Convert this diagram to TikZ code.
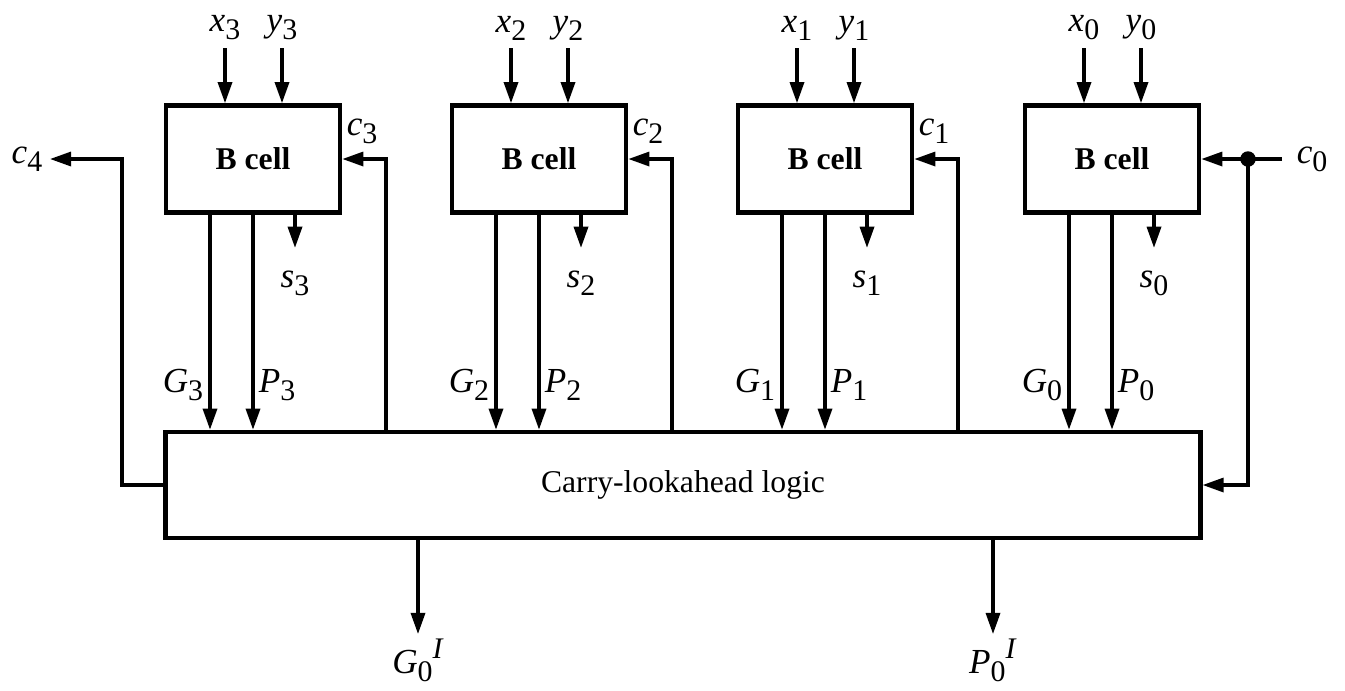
\documentclass[tikz,border=0pt]{standalone}
\usepackage{fontspec}
\setmainfont{Liberation Serif}
\usetikzlibrary{arrows.meta, positioning, calc}
\newcommand{\sigl}[2]{\textit{#1}\raisebox{-0.5ex}{\fontsize{8.5}{9}\selectfont #2}}
\newcommand{\sigI}[2]{\textit{#1}\raisebox{-0.5ex}{\fontsize{8.5}{9}\selectfont #2}\raisebox{0.9ex}{\fontsize{8.5}{9}\selectfont\textit{I}}}

\begin{document}
\begin{tikzpicture}[x=0.01cm, y=-0.01cm,
    sig/.style={line width=0.9pt, -{Triangle[length=6pt,width=4pt]}},
    bcell/.style={draw, line width=1.3pt, minimum width=1.74cm, minimum height=1.07cm,
      font=\fontsize{9}{11}\selectfont\bfseries},
    lbl/.style={inner sep=1pt, font=\fontsize{10}{12}\selectfont}]
  \useasboundingbox (0,0) rectangle (1345,690);

  \node[draw, line width=1.3pt, minimum width=10.34cm, minimum height=1.06cm,
    font=\fontsize{9}{11}\selectfont] (cla) at (683,485) {Carry-lookahead logic};

  \foreach \i/\cx in {3/253,2/539,1/825,0/1112} {
    \node[bcell] (b\i) at (\cx,159) {B cell};
    % operand inputs
    \coordinate (xin\i) at (\cx-28,48);
    \coordinate (yin\i) at (\cx+29,48);
    \node[lbl, above=1pt of xin\i] (lx\i) {\sigl{x}{\i}};
    \node[lbl, above=1pt of yin\i] (ly\i) {\sigl{y}{\i}};
    \draw[sig] (xin\i) -- (xin\i |- b\i.north);
    \draw[sig] (yin\i) -- (yin\i |- b\i.north);
    % generate, propagate, sum
    \coordinate (g\i) at ($(b\i.south)+(-43,0)$);
    \coordinate (s\i) at ($(b\i.south)+(42,0)$);
    \draw[sig] (g\i) -- (g\i |- cla.north);
    \draw[sig] (b\i.south) -- (b\i.south |- cla.north);
    \draw[sig] (s\i) -- ++(0,33) node[lbl, below=5pt] (ls\i) {\sigl{s}{\i}};
    \node[lbl] (lg\i) at (\cx-70,385) {\sigl{G}{\i}};
    \node[lbl] (lp\i) at (\cx+24,385) {\sigl{P}{\i}};
  }

  % carries from the lookahead logic
  \foreach \i/\cx in {3/253,2/539,1/825} {
    \coordinate (k\i) at (\cx+133,432);
    \draw[sig] (k\i) |- (b\i.east) node[lbl, pos=0.5, above left=3pt and 1pt] (lc\i) {\sigl{c}{\i}};
  }

  % carry in
  \coordinate (cin) at (1282,159);
  \coordinate (tap) at (1248,159);
  \node[lbl, right=3pt of cin] (lc0) {\sigl{c}{0}};
  \draw[sig] (cin) -- (b0.east);
  \fill (tap) circle[radius=2.2pt];
  \draw[sig] (tap) |- (cla.east);

  % carry out
  \coordinate (c4up) at (122,159);
  \coordinate (c4out) at (50,159);
  \node[lbl, left=1pt of c4out] (lc4) {\sigl{c}{4}};
  \draw[sig] (cla.west) -| (c4up) -- (c4out);

  % group outputs
  \coordinate (gI) at (418,538);
  \coordinate (pI) at (993,538);
  \draw[sig] (gI) -- ++(0,96) node[lbl, below=0pt] (lgI) {\sigI{G}{0}};
  \draw[sig] (pI) -- ++(0,96) node[lbl, below=0pt] (lpI) {\sigI{P}{0}};
\end{tikzpicture}
\end{document}
